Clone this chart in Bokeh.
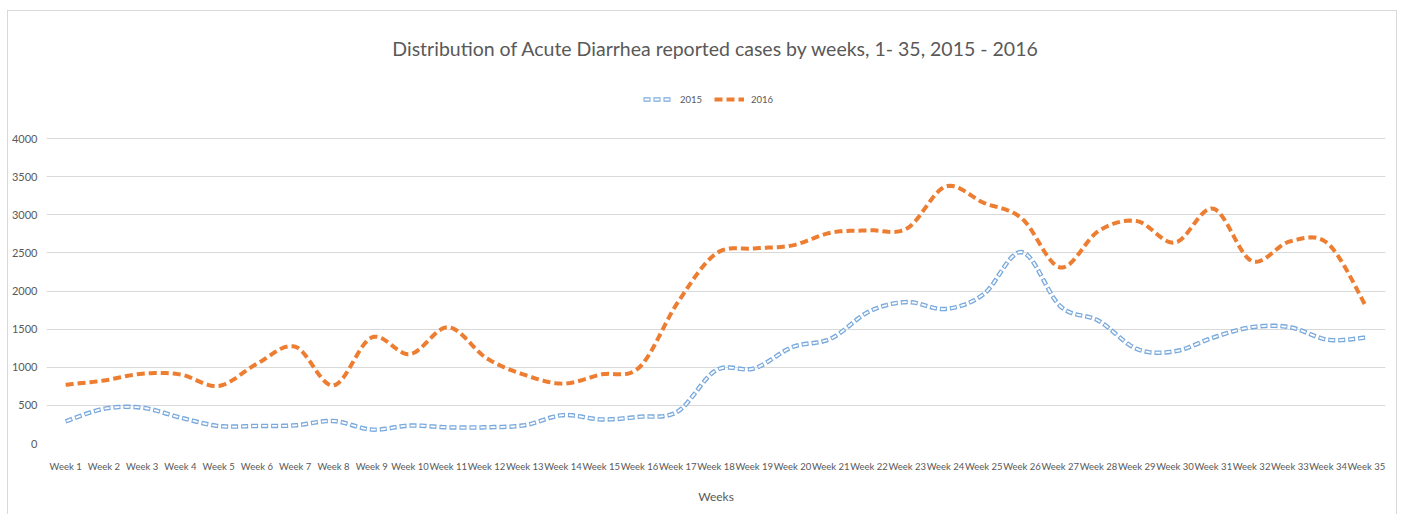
from bokeh.plotting import figure
from bokeh.models import Range1d, FixedTicker, Legend, LegendItem, Label
from bokeh.embed import file_html
from bokeh.resources import INLINE
import numpy as np

# ---------------- data ----------------
weeks = [f"Week {i}" for i in range(1, 36)]
cases_2015 = [290, 455, 470, 340, 230, 230, 238, 295, 183, 235, 212, 213, 240, 372, 316,
              350, 420, 960, 985, 1265, 1375, 1730, 1855, 1765, 1960, 2510, 1800, 1610,
              1240, 1210, 1390, 1525, 1525, 1360, 1390]
cases_2016 = [770, 826, 915, 905, 755, 1045, 1270, 761, 1391, 1172, 1525, 1120, 900, 785,
              905, 1000, 1850, 2490, 2558, 2598, 2765, 2796, 2822, 3370, 3156, 2950, 2308,
              2787, 2917, 2635, 3080, 2395, 2650, 2620, 1790]
y_ticks = [0, 500, 1000, 1500, 2000, 2500, 3000, 3500, 4000]
title_text = "Distribution of Acute Diarrhea reported cases by weeks, 1- 35, 2015 - 2016"
x_title = "Weeks"
series_names = ["2015", "2016"]

FONT = "Lato"
TXT = "#595959"


def smooth(xs, ys, n=16):
    """Excel-like smoothed line (Catmull-Rom as cubic Bezier) for drawing."""
    P = [(xs[0], ys[0])] + list(zip(xs, ys)) + [(xs[-1], ys[-1])]
    P = [np.array(p, dtype=float) for p in P]
    out = []
    for i in range(1, len(P) - 2):
        p0, p1, p2, p3 = P[i - 1], P[i], P[i + 1], P[i + 2]
        c1 = p1 + (p2 - p0) / 6.0
        c2 = p2 - (p3 - p1) / 6.0
        for t in np.linspace(0, 1, n, endpoint=False):
            b = ((1 - t) ** 3) * p1 + 3 * ((1 - t) ** 2) * t * c1 + 3 * (1 - t) * t * t * c2 + t ** 3 * p2
            out.append(b)
    out.append(P[-2])
    arr = np.array(out)
    return arr[:, 0], arr[:, 1]


x_idx = list(range(1, len(weeks) + 1))

H = 504
TOP = 2
BOTTOM = 72
frame_h = H - TOP - BOTTOM
PX = 4000.0 / 305.0          # data units per pixel
y_end = frame_h * PX

p = figure(width=1390, height=H, output_backend="svg", toolbar_location=None,
           x_range=Range1d(0.5, len(weeks) + 0.5), y_range=Range1d(0, y_end),
           min_border_left=38, min_border_right=13, min_border_top=TOP,
           min_border_bottom=BOTTOM)
p.styles = {"margin-left": "7px", "margin-top": "10px",
            "border-left": "1px solid #d9d9d9", "border-top": "1px solid #d9d9d9",
            "border-right": "1px solid #d9d9d9"}
p.outline_line_color = None
p.background_fill_color = "white"
p.border_fill_color = "white"

# grid
p.xgrid.grid_line_color = None
p.ygrid.ticker = FixedTicker(ticks=y_ticks)
p.ygrid.grid_line_color = "#d9d9d9"
p.ygrid.grid_line_width = 1.2

# axes
p.yaxis.ticker = FixedTicker(ticks=y_ticks)
p.yaxis.axis_line_color = None
p.yaxis.major_tick_line_color = None
p.yaxis.minor_tick_line_color = None
p.yaxis.major_tick_out = 0
p.yaxis.major_label_standoff = 9
p.yaxis.major_label_text_font = FONT
p.yaxis.major_label_text_font_size = "11px"
p.yaxis.major_label_text_color = TXT

p.xaxis.ticker = FixedTicker(ticks=x_idx)
p.xaxis.major_label_overrides = {i: w for i, w in zip(x_idx, weeks)}
p.xaxis.axis_line_color = None
p.xaxis.major_tick_line_color = None
p.xaxis.minor_tick_line_color = None
p.xaxis.major_tick_out = 0
p.xaxis.major_label_standoff = 17
p.xaxis.major_label_text_font = FONT
p.xaxis.major_label_text_font_size = "9.5px"
p.xaxis.major_label_text_color = TXT
p.xaxis.axis_label = x_title
p.xaxis.axis_label_text_font = FONT
p.xaxis.axis_label_text_font_size = "12px"
p.xaxis.axis_label_text_font_style = "normal"
p.xaxis.axis_label_text_color = TXT
p.xaxis.axis_label_standoff = 14

# series
bx, by = smooth(x_idx, cases_2015)
ox, oy = smooth(x_idx, cases_2016)

b_outer = p.line(bx, by, line_color="#7AAADD", line_width=4.5, line_dash="7 3",
                 line_cap="butt", line_join="round")
b_inner = p.line(bx, by, line_color="white", line_width=1.8, line_dash="5 5",
                 line_dash_offset=9, line_cap="butt", line_join="round")
o_line = p.line(ox, oy, line_color="#ED7D31", line_width=4, line_dash="8 4",
                line_cap="butt", line_join="round")

legend = Legend(items=[LegendItem(label=series_names[0], renderers=[b_outer, b_inner]),
                       LegendItem(label=series_names[1], renderers=[o_line])],
                orientation="horizontal", location=(597, 338),
                glyph_width=30, glyph_height=12, label_standoff=7, spacing=12,
                padding=0, margin=0, border_line_color=None, background_fill_alpha=0,
                label_text_font=FONT, label_text_font_size="9.5px",
                label_text_color=TXT, label_height=12)
p.add_layout(legend)

cx = (len(weeks) + 1) / 2.0
title = Label(x=cx, y=395 * PX, text=title_text,
              text_align="center", text_baseline="middle", text_font=FONT,
              text_font_size="19.5px", text_color=TXT)
p.add_layout(title)

open("out.html", "w").write(file_html(p, INLINE))
